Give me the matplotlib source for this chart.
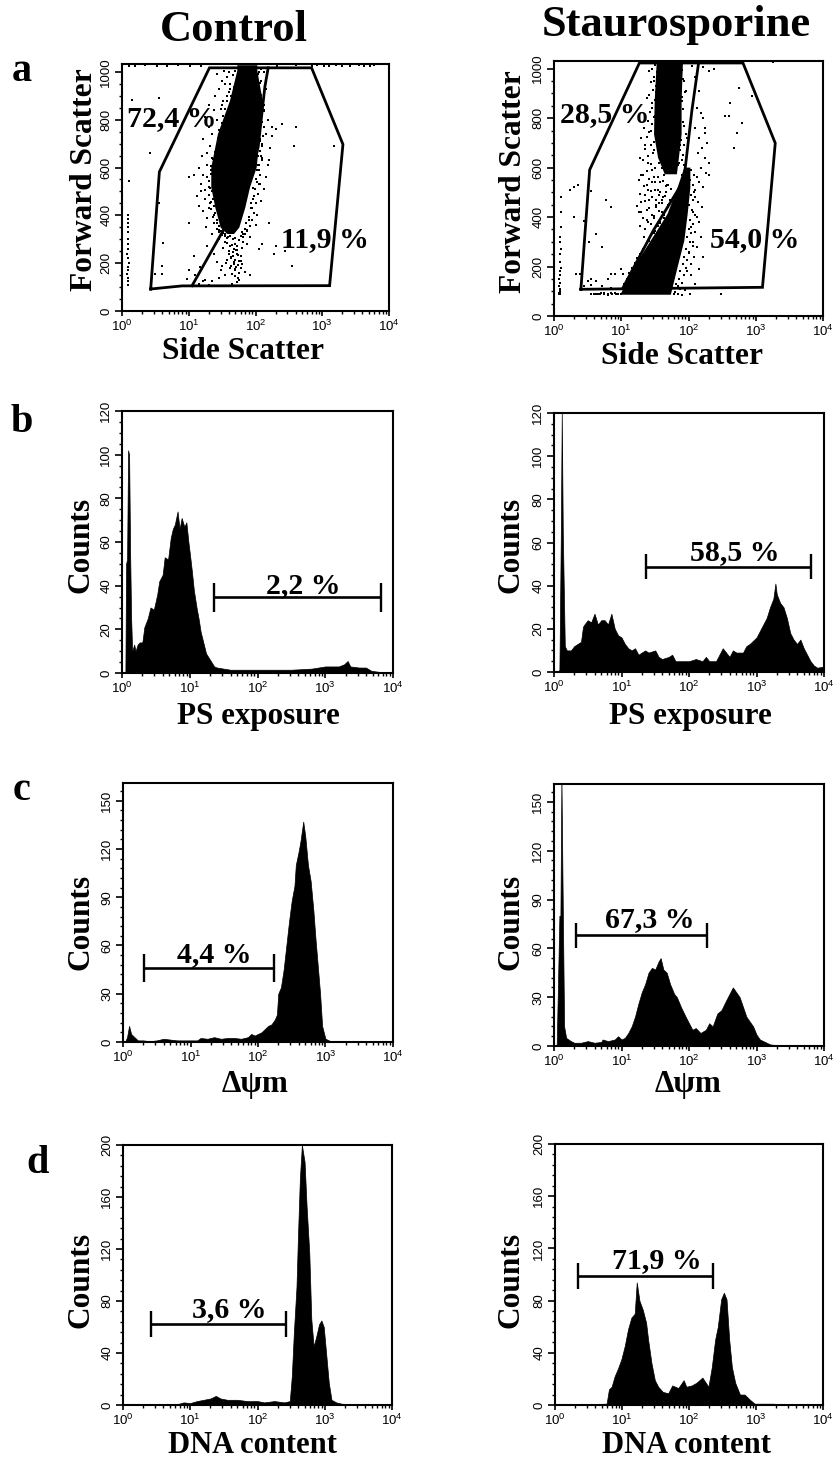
import numpy as np
import matplotlib
matplotlib.use('Agg')
import matplotlib.pyplot as plt

W, H = 834, 1460
SERIF = 'Liberation Serif'
SANS = 'Liberation Sans'
plt.rcParams['font.family'] = [SERIF, 'DejaVu Serif']
plt.rcParams['mathtext.fontset'] = 'custom'
plt.rcParams['mathtext.rm'] = SANS

# === DATA === (x values are log10 of the channel)
DECADES = [0, 1, 2, 3, 4]
DECADE_LABELS = ['$\\mathrm{10^{0}}$', '$\\mathrm{10^{1}}$', '$\\mathrm{10^{2}}$', '$\\mathrm{10^{3}}$', '$\\mathrm{10^{4}}$']

# a: gates
CTRL_GATE_X = [0.43, 0.56, 1.31, 2.84, 3.31, 3.11, 0.90, 0.43]
CTRL_GATE_Y = [92, 582, 1017, 1017, 697, 106, 105, 92]
CTRL_SPLIT_X = [1.05, 1.49, 1.89, 2.04, 2.14, 2.19]
CTRL_SPLIT_Y = [106, 324, 519, 686, 937, 1017]
STAU_GATE_X = [0.40, 0.53, 1.27, 2.81, 3.29, 3.10, 0.40]
STAU_GATE_Y = [108, 591, 1023, 1023, 699, 116, 108]
STAU_SPLIT_X = [1.03, 1.48, 1.93, 2.05, 2.15]
STAU_SPLIT_Y = [116, 347, 548, 830, 1023]

# a: solid parts of the clouds
CTRL_CORE_Y = [324, 351, 435, 519, 602, 742, 881, 1007, 1030]
CTRL_CORE_L = [1.57, 1.47, 1.39, 1.33, 1.33, 1.43, 1.61, 1.72, 1.72]
CTRL_CORE_R = [1.67, 1.75, 1.84, 1.91, 2.01, 2.06, 2.10, 2.02, 2.02]
STAU_UP_Y = [575, 642, 737, 871, 1028]
STAU_UP_L = [1.64, 1.54, 1.48, 1.49, 1.52]
STAU_UP_R = [1.82, 1.85, 1.89, 1.89, 1.91]
STAU_LOW_Y = [88, 199, 306, 414, 521, 602]
STAU_LOW_L = [0.98, 1.18, 1.43, 1.68, 1.83, 1.93]
STAU_LOW_R = [1.73, 1.83, 1.93, 1.98, 2.02, 2.02]

# a: single dots
CTRL_DOT_X = [1.42, 1.50, 1.45, 1.40, 1.52, 1.30, 1.38, 1.25, 1.42, 1.30, 1.35, 1.22, 1.32, 1.27, 1.20, 1.35, 1.15, 1.28, 1.22, 1.08,
              1.18, 1.30, 1.12, 1.25, 1.32, 1.22, 1.38, 1.28, 1.42, 1.45, 1.35, 1.33, 1.27, 1.24, 1.19, 1.16, 1.36, 1.31, 1.26, 1.40,
              2.12, 2.08, 2.15, 2.05, 2.12, 2.18, 2.25, 2.15, 2.10, 2.22, 2.08, 2.18, 2.05, 2.15, 2.02, 2.12, 1.98, 2.08, 1.95, 2.02,
              1.90, 2.00, 1.88, 1.82, 1.92, 2.10, 2.07, 2.03, 1.97, 1.94, 2.06, 2.13, 2.09,
              1.53, 1.58, 1.60, 1.55, 1.62, 1.58, 1.50, 1.48, 1.56, 1.44, 2.00, 2.05, 2.02, 2.08, 1.99, 2.03,
              1.45, 1.55, 1.62, 1.70, 1.72, 1.60, 1.66, 1.74, 1.78, 1.68, 1.58, 1.50, 1.62, 1.70, 1.75, 1.65, 1.55, 1.45, 1.35, 1.25,
              1.15, 1.10, 1.00, 1.52, 1.59, 1.64, 1.69, 1.76, 1.80, 1.84, 1.88, 1.92, 1.72, 1.67, 1.61, 1.56, 1.48, 1.42, 1.38, 1.30,
              1.21, 1.05, 0.98, 1.71, 1.63, 1.74, 1.65, 1.79, 1.69,
              0.15, 0.55, 0.42, 0.10, 0.55, 1.00, 0.60, 2.40, 2.60, 2.58, 3.18, 2.30, 2.25, 2.20, 2.20, 2.10, 2.30, 2.05, 2.55, 1.00,
              0.62, 0.60, 0.50, 1.08, 2.28, 2.44, 1.17, 1.28,
              0.09, 0.09, 0.09, 0.09, 0.09, 0.09, 0.09, 0.09, 0.08, 0.09, 0.10, 0.09, 0.09, 0.08, 0.09, 0.09, 0.09,
              0.10, 0.20, 0.35, 0.52, 0.68, 0.84, 1.02, 1.18, 2.32, 2.60, 2.85, 2.92, 3.02, 3.10, 3.20, 3.30, 3.42, 3.55, 3.62, 3.72, 3.78,
              1.70, 1.66, 1.72, 1.62, 1.68, 1.60, 1.64, 1.58, 1.62, 1.55,
              1.58, 1.52, 1.56, 1.50, 1.54, 1.46, 1.50, 1.44, 1.48, 1.42,
              1.46, 1.40, 1.44, 1.36, 1.42, 1.34, 1.40, 1.33, 1.38, 1.31,
              1.36, 1.32, 1.35, 1.30, 1.36, 1.33, 1.38, 1.34, 1.40, 1.36,
              1.42, 1.38, 1.45, 1.42, 1.48, 1.46, 1.52, 1.50, 1.55, 1.58,
              2.00, 2.04, 1.99, 2.06, 2.02, 2.08, 2.10, 2.06, 2.12, 2.09,
              2.08, 2.12, 2.07, 2.11, 2.06, 2.10, 2.07, 2.04, 2.09, 2.05,
              2.02, 2.07, 2.01, 2.05, 1.99, 2.03, 1.97, 2.00, 1.94, 1.98,
              1.90, 1.95, 1.86, 1.92, 1.84, 1.88, 1.80, 1.85, 1.78, 1.82,
              1.55, 1.62, 1.70, 1.76, 1.82, 1.58, 1.65, 1.73, 1.80, 1.68,
              1.60, 1.66, 1.72, 1.78, 1.63, 1.70, 1.76, 1.68, 1.74, 1.71]
CTRL_DOT_Y = [990, 960, 930, 900, 880, 860, 840, 810, 800, 770, 740, 720, 690, 660, 650, 640, 600, 610, 570, 570,
              530, 520, 480, 470, 450, 420, 400, 390, 370, 340, 320, 590, 560, 505, 500, 440, 470, 430, 350, 620,
              1000, 960, 930, 900, 840, 800, 770, 740, 700, 680, 650, 610, 590, 560, 540, 510, 480, 460, 430, 400,
              380, 360, 340, 320, 310, 790, 720, 610, 515, 450, 530, 860, 640,
              1005, 980, 1000, 950, 930, 900, 860, 845, 820, 700, 980, 1000, 950, 1010, 920, 870,
              300, 290, 270, 280, 255, 240, 230, 235, 210, 205, 215, 190, 180, 175, 160, 155, 150, 140, 125, 130,
              115, 150, 170, 265, 310, 225, 145, 130, 195, 165, 280, 150, 120, 300, 250, 200, 170, 205, 240, 110,
              125, 105, 135, 255, 190, 140, 115, 180, 170,
              884, 890, 660, 545, 450, 560, 190, 780, 770, 689, 690, 760, 730, 630, 370, 280, 270, 260, 190, 370,
              285, 155, 155, 230, 240, 250, 185, 270,
              400, 385, 370, 350, 330, 300, 280, 260, 240, 220, 200, 185, 170, 155, 140, 125, 110,
              1026, 1025, 1027, 1026, 1025, 1027, 1026, 1025, 1026, 1027, 1025, 1027, 1026, 1025, 1027, 1026, 1025, 1027, 1026, 1025, 1027,
              1005, 985, 965, 950, 935, 915, 900, 880, 860, 845,
              830, 815, 800, 785, 770, 755, 740, 725, 710, 695,
              680, 665, 650, 635, 620, 605, 590, 575, 560, 545,
              530, 515, 500, 485, 470, 455, 440, 425, 410, 395,
              380, 368, 355, 345, 335, 330, 325, 318, 312, 305,
              1010, 990, 970, 955, 930, 905, 880, 860, 835, 815,
              790, 770, 750, 730, 710, 690, 670, 650, 630, 610,
              590, 570, 550, 530, 510, 490, 470, 450, 430, 410,
              395, 380, 370, 355, 345, 335, 330, 320, 315, 308,
              320, 312, 305, 298, 290, 285, 278, 272, 265, 258,
              250, 245, 240, 232, 222, 215, 208, 198, 192, 185]

STAU_DOT_X = [1.42, 1.48, 1.52, 1.38, 1.46, 1.50, 1.40, 1.34, 1.44, 1.30, 1.36, 1.48, 1.28, 1.40, 1.45, 1.32, 1.26, 1.38, 1.50, 1.35,
              1.42, 1.30, 1.24, 1.38, 1.46, 1.32, 1.40, 1.28, 1.36, 1.48, 1.34, 1.42, 1.26, 1.52, 1.56, 1.60, 1.63, 1.58, 1.54, 1.66,
              1.48, 1.62, 1.56, 1.70, 1.66, 1.72, 1.75, 1.60, 1.64, 1.58, 1.70, 1.52, 1.44, 1.50, 1.56,
              1.88, 1.92, 1.96, 1.90, 1.86, 1.94, 1.98, 1.88, 1.92, 1.86, 1.94, 1.90, 1.88, 1.92, 1.96, 1.86, 1.90, 1.84,
              2.05, 2.10, 2.15, 2.08, 2.12, 2.18, 2.22, 2.10, 2.25, 2.16, 2.28, 2.20, 2.14, 2.24, 2.30, 2.18, 2.26, 2.12, 2.16, 2.22,
              2.08, 2.10, 2.14, 2.20, 2.06, 2.12, 2.16, 2.04, 2.10, 2.18, 2.06, 2.12, 2.00, 2.08, 2.04, 1.98,
              2.22, 2.30, 2.38, 2.62, 2.75, 2.60, 2.95, 2.55, 2.80, 2.68, 2.30, 2.25, 2.72,
              1.30, 1.25, 1.15, 1.08, 1.00, 0.90, 0.80, 1.35, 1.40, 1.22, 0.92, 0.85, 0.72, 0.62, 0.55, 1.12, 1.03, 1.76, 1.82, 1.88,
              1.95, 2.03, 2.15, 2.22, 2.10, 0.35, 0.55, 0.78, 0.85, 0.30, 0.45, 0.52,
              0.10, 0.10, 0.10, 0.09, 0.09, 0.10, 0.09, 0.09, 0.10, 0.09, 0.09, 0.08, 0.09, 0.08, 0.09, 0.09, 0.08, 0.09, 0.08, 0.09,
              0.24, 0.30, 0.33, 0.38, 0.55, 0.62, 0.72, 0.85, 0.45, 0.50,
              0.62, 0.68, 0.74, 0.80, 0.86, 0.92, 1.78, 1.84, 1.90, 2.02, 2.48,
              3.08, 3.25, 3.40, 3.55, 3.65,
              1.50, 1.46, 1.53, 1.48, 1.44, 1.52, 1.47, 1.42, 1.50, 1.45,
              1.51, 1.43, 1.48, 1.40, 1.46, 1.52, 1.42, 1.38, 1.49, 1.44,
              1.36, 1.47, 1.40, 1.33, 1.44, 1.50, 1.38, 1.30, 1.42, 1.46,
              1.34, 1.40, 1.28, 1.45, 1.36, 1.52, 1.42, 1.30, 1.48, 1.38,
              1.86, 1.90, 1.88, 1.93, 1.87, 1.95, 1.90, 1.85, 1.92, 1.88,
              1.92, 1.86, 1.96, 1.89, 1.94, 1.87, 1.98, 1.91, 1.85, 1.95,
              1.55, 1.62, 1.68, 1.74, 1.58, 1.65, 1.52, 1.60, 1.70, 1.56,
              1.64, 1.48, 1.58, 1.54, 1.62, 1.50, 1.66, 1.44, 1.56, 1.60,
              2.04, 2.08, 2.02, 2.06, 2.10, 2.03, 2.07, 2.01, 2.05, 2.09,
              2.02, 2.06, 2.00, 2.04, 1.98, 2.02, 2.07, 1.96, 2.00, 1.94,
              1.98, 1.92, 1.96, 1.88, 1.94, 1.86, 1.90, 1.84, 1.88, 1.80,
              1.40, 1.36, 1.32, 1.28, 1.24, 1.20, 1.16, 1.12, 1.08, 1.04,
              0.90, 0.95, 1.00, 0.85, 0.80, 0.75, 0.70, 0.65, 0.60, 0.55]
STAU_DOT_Y = [990, 950, 905, 880, 840, 810, 790, 760, 750, 720, 690, 670, 640, 620, 590, 570, 550, 530, 510, 490,
              470, 460, 445, 430, 410, 395, 380, 365, 350, 335, 318, 302, 420, 290, 620, 600, 570, 540, 510, 590,
              560, 480, 455, 530, 500, 470, 440, 420, 395, 375, 450, 440, 370, 345, 320,
              1000, 960, 910, 870, 810, 770, 720, 690, 650, 620, 610, 570, 520, 480, 450, 450, 415, 490,
              1010, 965, 910, 880, 840, 820, 800, 760, 740, 720, 700, 680, 660, 640, 620, 600, 580, 560, 540, 520,
              500, 480, 460, 440, 420, 400, 380, 360, 340, 320, 300, 280, 260, 240, 210, 180,
              1005, 990, 1000, 860, 920, 810, 890, 810, 780, 680, 570, 760, 740,
              160, 175, 140, 150, 190, 170, 150, 130, 195, 120, 110, 115, 120, 140, 125, 105, 170, 150, 130, 110,
              105, 165, 190, 240, 130, 530, 505, 470, 440, 400, 385, 300,
              480, 420, 360, 320, 300, 270, 250, 220, 195, 180, 165, 150, 135, 120, 110, 100, 95, 90, 88, 93,
              510, 520, 170, 170, 150, 330, 280, 170, 120, 140,
              90, 88, 92, 86, 90, 88, 88, 90, 86, 88, 90,
              1030, 1028, 1031, 1029, 1030,
              1015, 1000, 985, 965, 945, 930, 915, 895, 875, 860,
              845, 825, 805, 790, 775, 760, 745, 725, 705, 690,
              675, 660, 645, 630, 615, 600, 585, 570, 555, 540,
              525, 510, 495, 480, 465, 450, 435, 420, 405, 390,
              1015, 995, 975, 950, 930, 905, 885, 860, 835, 810,
              785, 760, 735, 710, 690, 670, 650, 630, 610, 595,
              560, 545, 530, 515, 500, 485, 470, 455, 440, 425,
              410, 395, 380, 365, 350, 540, 525, 505, 490, 470,
              590, 570, 550, 530, 510, 490, 470, 450, 430, 410,
              390, 370, 350, 335, 320, 300, 285, 270, 255, 240,
              225, 210, 195, 180, 165, 150, 135, 120, 108, 98,
              305, 285, 270, 250, 235, 215, 195, 175, 150, 130,
              92, 90, 88, 92, 90, 88, 92, 90, 88, 90]

# b: PS exposure
PS_CTRL_X = [0.05, 0.06, 0.075, 0.09, 0.105, 0.12, 0.135, 0.15, 0.18, 0.20, 0.23, 0.26, 0.30, 0.33, 0.38, 0.42, 0.47, 0.52, 0.55, 0.60, 0.63, 0.68, 0.72, 0.75, 0.78, 0.82, 0.85, 0.88, 0.92, 0.95, 0.98, 1.00, 1.03, 1.06, 1.10, 1.13, 1.16, 1.20, 1.24, 1.28, 1.32, 1.36, 1.40, 1.50, 1.60, 1.80, 2.00, 2.30, 2.50, 2.80, 3.00, 3.20, 3.28, 3.33, 3.37, 3.50, 3.60, 3.68, 3.80, 4.00]
PS_CTRL_Y = [0, 50, 52, 102, 100, 55, 25, 10, 13, 10, 13, 14, 14, 21, 25, 30, 29, 36, 42, 45, 53, 52, 62, 66, 68, 74, 66, 71, 67, 69, 60, 55, 47, 38, 30, 25, 19, 14, 9, 7, 5, 3, 2.5, 2, 1.5, 1.5, 1.5, 1.5, 1.5, 2, 3, 3, 4, 5.5, 3, 2.5, 2.5, 1, 0.5, 0]
PS_STAU_X = [0.05, 0.08, 0.10, 0.115, 0.13, 0.16, 0.19, 0.25, 0.30, 0.35, 0.40, 0.43, 0.45, 0.50, 0.55, 0.60, 0.65, 0.70, 0.75, 0.80, 0.85, 0.90, 0.95, 1.00, 1.05, 1.10, 1.15, 1.20, 1.25, 1.30, 1.35, 1.40, 1.50, 1.55, 1.60, 1.70, 1.75, 1.80, 1.90, 2.00, 2.10, 2.20, 2.25, 2.30, 2.40, 2.50, 2.55, 2.60, 2.65, 2.70, 2.80, 2.85, 2.90, 3.00, 3.05, 3.10, 3.15, 3.20, 3.25, 3.28, 3.30, 3.35, 3.40, 3.45, 3.50, 3.55, 3.60, 3.65, 3.70, 3.75, 3.80, 3.85, 3.90, 4.00]
PS_STAU_Y = [0, 1, 60, 120, 65, 12, 10, 10, 12, 13, 14, 21, 22, 24, 23, 27, 22, 24, 24, 22, 27, 20, 17, 16, 13, 11, 10, 11, 8, 9, 10, 9, 10, 7, 6, 7, 8, 5, 5, 5, 6, 5, 7, 5, 5, 11, 9, 7, 10, 9, 9, 12, 13, 16, 19, 22, 25, 30, 34, 41, 36, 32, 30, 25, 18, 15, 13, 15, 11, 8, 5, 3, 2, 2.5]

# c: membrane potential
DPSI_CTRL_X = [0.03, 0.06, 0.09, 0.12, 0.17, 0.22, 0.30, 0.40, 0.50, 0.60, 0.70, 0.80, 1.00, 1.10, 1.15, 1.25, 1.35, 1.45, 1.55, 1.65, 1.75, 1.85, 1.90, 1.95, 2.00, 2.05, 2.10, 2.15, 2.20, 2.25, 2.28, 2.30, 2.34, 2.38, 2.42, 2.46, 2.50, 2.54, 2.56, 2.60, 2.63, 2.67, 2.70, 2.74, 2.78, 2.82, 2.85, 2.88, 2.92, 2.95, 2.98, 3.00, 3.05, 3.10, 4.00]
DPSI_CTRL_Y = [0, 3, 10, 5, 3, 1, 1, 0.5, 1, 2, 1.5, 1, 1, 1, 2.5, 2, 3, 2, 2.5, 2.5, 2, 3, 5, 4, 5, 6, 8, 10, 11, 14, 17, 30, 34, 45, 60, 75, 88, 97, 110, 118, 125, 137, 128, 110, 100, 82, 65, 50, 30, 10, 5, 2, 1, 0, 0]
DPSI_STAU_X = [0.04, 0.08, 0.095, 0.11, 0.13, 0.15, 0.18, 0.25, 0.30, 0.40, 0.50, 0.60, 0.70, 0.72, 0.80, 0.90, 0.95, 1.00, 1.05, 1.10, 1.15, 1.20, 1.25, 1.30, 1.35, 1.40, 1.45, 1.50, 1.55, 1.58, 1.62, 1.67, 1.72, 1.78, 1.82, 1.88, 1.95, 2.00, 2.05, 2.10, 2.17, 2.25, 2.30, 2.35, 2.42, 2.48, 2.55, 2.60, 2.65, 2.70, 2.75, 2.80, 2.85, 2.95, 3.00, 3.05, 3.10, 3.20, 3.30, 4.00]
DPSI_STAU_Y = [0, 80, 80, 165, 85, 12, 5, 3, 2, 2, 3, 2, 2.5, 4, 3, 4, 6, 4, 5, 8, 12, 18, 26, 33, 38, 45, 48, 47, 52, 54, 47, 45, 38, 32, 30, 24, 18, 14, 10, 11, 8, 10, 14, 12, 20, 22, 28, 32, 36, 33, 30, 24, 18, 12, 7, 4, 3, 1, 0.5, 0]

# d: DNA content
DNA_CTRL_X = [0.00, 0.80, 0.90, 1.00, 1.10, 1.20, 1.30, 1.38, 1.45, 1.55, 1.70, 1.85, 2.00, 2.10, 2.25, 2.40, 2.48, 2.51, 2.54, 2.58, 2.60, 2.63, 2.66, 2.70, 2.73, 2.77, 2.80, 2.835, 2.875, 2.915, 2.95, 2.985, 3.02, 3.06, 3.10, 3.17, 3.25, 3.40, 4.00]
DNA_CTRL_Y = [0, 0.5, 2, 1.5, 3, 4, 5, 7, 5, 4, 4, 3, 3, 2, 3, 2, 3, 22, 55, 91, 127, 174, 200, 187, 153, 117, 66, 45, 53, 62, 65, 60, 40, 17, 4, 2, 1, 0.5, 0]
DNA_STAU_X = [0.00, 0.77, 0.805, 0.845, 0.89, 0.94, 0.99, 1.04, 1.09, 1.14, 1.19, 1.22, 1.26, 1.31, 1.36, 1.39, 1.44, 1.49, 1.54, 1.61, 1.69, 1.75, 1.84, 1.92, 1.96, 2.04, 2.11, 2.20, 2.29, 2.34, 2.39, 2.43, 2.48, 2.52, 2.56, 2.60, 2.64, 2.69, 2.76, 2.83, 2.91, 2.98, 3.25, 3.50, 4.00]
DNA_STAU_Y = [0, 1, 12, 14, 22, 28, 35, 45, 58, 67, 70, 94, 80, 73, 63, 50, 32, 19, 14, 10, 9, 15, 13, 19, 14, 15, 17, 21, 14, 29, 50, 60, 81, 86, 81, 50, 29, 17, 8, 8, 4, 1, 1, 0, 0]

# gate bars: left, right, height, half length of the end caps
BAR_PS_CTRL = [1.364, 3.83, 34.6, 6.7]
BAR_PS_STAU = [1.36, 3.81, 48.8, 5.8]
BAR_DPSI_CTRL = [0.31, 2.23, 46, 8.5]
BAR_DPSI_STAU = [0.32, 2.26, 68, 7.7]
BAR_DNA_CTRL = [0.41, 2.43, 62, 10]
BAR_DNA_STAU = [0.34, 2.36, 98.7, 10]

# === FIGURE ===
fig = plt.figure(figsize=(W / 100, H / 100), dpi=100)


def lin(dec):
    return np.power(10.0, np.array(dec, dtype=float))


def panel(left, top, right, bottom, ymax, yticks, yminor):
    ax = fig.add_axes([left / W, 1 - bottom / H, (right - left) / W, (bottom - top) / H])
    ax.set_xscale('log')
    ax.set_xlim(1, 1e4)
    ax.set_ylim(0, ymax)
    ax.set_xticks(lin(DECADES))
    ax.set_xticklabels(DECADE_LABELS, fontsize=9.5, family=SANS)
    ax.set_xticks([m * 10 ** d for d in DECADES[:-1] for m in range(2, 10)], minor=True)
    ax.set_xticklabels([], minor=True)
    ax.set_yticks(yticks)
    ax.set_yticklabels([str(v) for v in yticks], fontsize=9.5, family=SANS, rotation=90, va='center')
    ax.set_yticks(yminor, minor=True)
    ax.tick_params(axis='x', which='major', length=3.5, width=1.2, pad=2)
    ax.tick_params(axis='x', which='minor', length=2.5, width=1.0)
    ax.tick_params(axis='y', which='major', length=5, width=1.2, pad=2)
    ax.tick_params(axis='y', which='minor', length=2.5, width=1.0)
    for s in ax.spines.values():
        s.set_linewidth(1.5)
    return ax


def hist(ax, dec, counts):
    ax.fill_between(lin(dec), counts, 0, color='black', lw=0.5)


def bar(ax, b):
    x = lin(b[:2])
    ax.plot(x, [b[2], b[2]], color='black', lw=1.9, solid_capstyle='butt')
    ax.vlines(x, b[2] - b[3], b[2] + b[3], color='black', lw=1.7)


def write(x, y, txt, size, rotation=0, ha='center', va='baseline'):
    fig.text(x / W, 1 - y / H, txt, fontsize=size, fontweight='bold', color='black',
             ha=ha, va=va, rotation=rotation, rotation_mode='anchor')


def scatter_panel(ax, gate_x, gate_y, split_x, split_y, dot_x, dot_y):
    ax.scatter(lin(dot_x), dot_y, s=2.4, marker='s', color='black', linewidths=0)
    ax.plot(lin(gate_x), gate_y, color='black', lw=2, solid_joinstyle='miter')
    ax.plot(lin(split_x), split_y, color='black', lw=2)


YT_A = [0, 200, 400, 600, 800, 1000]
YM_A = list(range(0, 1001, 50))
YT_B = [0, 20, 40, 60, 80, 100, 120]
YM_B = list(range(0, 121, 5))
YT_C = [0, 30, 60, 90, 120, 150]
YM_C = list(range(0, 157, 6))
YT_D = [0, 40, 80, 120, 160, 200]
YM_D = list(range(0, 201, 8))

# row a
ax = panel(122, 64, 389, 311, 1033, YT_A, YM_A)
ax.fill_betweenx(CTRL_CORE_Y, lin(CTRL_CORE_L), lin(CTRL_CORE_R), color='black', lw=0)
scatter_panel(ax, CTRL_GATE_X, CTRL_GATE_Y, CTRL_SPLIT_X, CTRL_SPLIT_Y, CTRL_DOT_X, CTRL_DOT_Y)

ax = panel(554, 61, 823, 316, 1031, YT_A, YM_A)
ax.fill_betweenx(STAU_UP_Y, lin(STAU_UP_L), lin(STAU_UP_R), color='black', lw=0)
ax.fill_betweenx(STAU_LOW_Y, lin(STAU_LOW_L), lin(STAU_LOW_R), color='black', lw=0)
scatter_panel(ax, STAU_GATE_X, STAU_GATE_Y, STAU_SPLIT_X, STAU_SPLIT_Y, STAU_DOT_X, STAU_DOT_Y)

# row b
ax = panel(122, 411, 393, 673, 120, YT_B, YM_B)
hist(ax, PS_CTRL_X, PS_CTRL_Y)
bar(ax, BAR_PS_CTRL)
ax = panel(554, 413, 824, 672, 120, YT_B, YM_B)
hist(ax, PS_STAU_X, PS_STAU_Y)
bar(ax, BAR_PS_STAU)

# row c
ax = panel(123, 783, 393, 1042, 161, YT_C, YM_C)
hist(ax, DPSI_CTRL_X, DPSI_CTRL_Y)
bar(ax, BAR_DPSI_CTRL)
ax = panel(554, 784, 824, 1046, 161, YT_C, YM_C)
hist(ax, DPSI_STAU_X, DPSI_STAU_Y)
bar(ax, BAR_DPSI_STAU)

# row d
ax = panel(123, 1145, 392, 1405, 200, YT_D, YM_D)
hist(ax, DNA_CTRL_X, DNA_CTRL_Y)
bar(ax, BAR_DNA_CTRL)
ax = panel(555, 1144, 823, 1405, 200, YT_D, YM_D)
hist(ax, DNA_STAU_X, DNA_STAU_Y)
bar(ax, BAR_DNA_STAU)

# === TEXT ===
write(234, 41, 'Control', 32)
write(676, 36, 'Staurosporine', 32)
write(22, 81, 'a', 29)
write(22, 432, 'b', 29)
write(22, 800, 'c', 29)
write(38, 1173, 'd', 29)

write(243, 359, 'Side Scatter', 22.6)
write(682, 364, 'Side Scatter', 22.6)
write(92, 180, 'Forward Scatter', 22.6, rotation=90)
write(521, 182, 'Forward Scatter', 22.6, rotation=90)
write(88, 545, 'Counts', 22.6, rotation=90)
write(518, 545, 'Counts', 22.6, rotation=90)
write(88, 922, 'Counts', 22.6, rotation=90)
write(518, 922, 'Counts', 22.6, rotation=90)
write(89, 1280, 'Counts', 22.6, rotation=90)
write(518, 1280, 'Counts', 22.6, rotation=90)
write(258, 724, 'PS exposure', 22.4)
write(690, 724, 'PS exposure', 22.4)
write(255, 1092, 'Δψm', 22.4)
write(688, 1092, 'Δψm', 22.4)
write(253, 1453, 'DNA content', 22)
write(687, 1453, 'DNA content', 22)

write(172, 126, '72,4 %', 21.5)
write(325, 247, '11,9 %', 21.5)
write(605, 122, '28,5 %', 21.5)
write(755, 247, '54,0 %', 21.5)
write(303, 593, '2,2 %', 21.5)
write(735, 560, '58,5 %', 21.5)
write(214, 962, '4,4 %', 21.5)
write(650, 927, '67,3 %', 21.5)
write(229, 1317, '3,6 %', 21.5)
write(657, 1268, '71,9 %', 21.5)

fig.savefig('out.png', dpi=100, facecolor='white')
